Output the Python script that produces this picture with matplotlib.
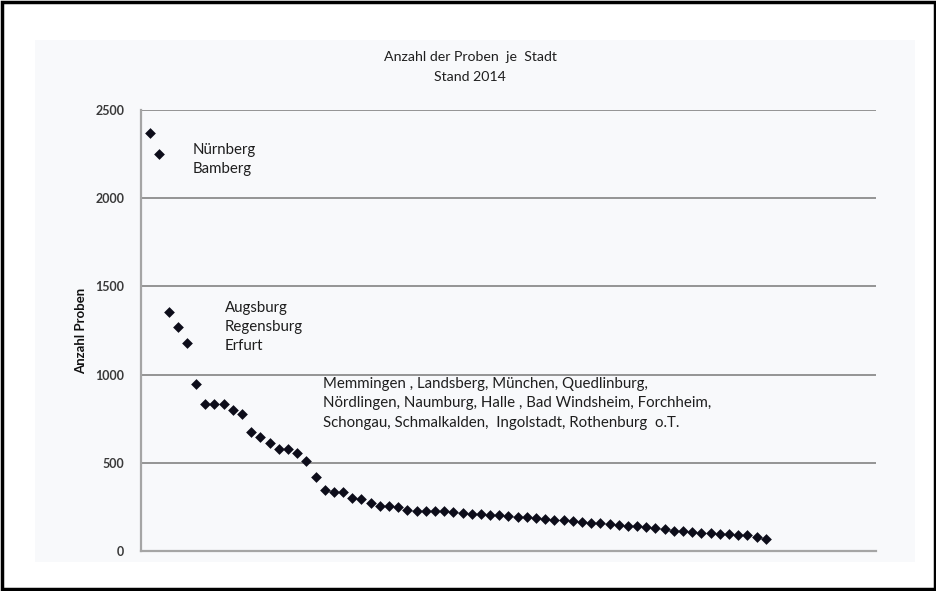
import matplotlib
matplotlib.use("Agg")
import matplotlib.pyplot as plt
from matplotlib.patches import Rectangle

plt.rcParams['font.family'] = ['Lato', 'DejaVu Sans']

# ---- data ----
counts = [2370, 2250, 1357, 1268, 1177, 945, 832, 832, 832, 799,
          778, 675, 648, 614, 580, 580, 554, 510, 420, 346,
          336, 336, 299, 293, 270, 257, 257, 251, 232, 228,
          228, 226, 224, 222, 216, 212, 210, 204, 202, 198,
          194, 190, 186, 182, 178, 174, 170, 166, 160, 156,
          152, 148, 144, 140, 134, 128, 122, 116, 112, 108,
          104, 100, 97, 94, 91, 88, 78, 70]
ranks = list(range(1, len(counts) + 1))
y_ticks = [0, 500, 1000, 1500, 2000, 2500]
title = "Anzahl der Proben  je  Stadt\nStand 2014"
y_label = "Anzahl Proben"
group1 = ["Nürnberg", "Bamberg"]
group2 = ["Augsburg", "Regensburg", "Erfurt"]
group3 = ["Memmingen , Landsberg, München, Quedlinburg,",
          "Nördlingen, Naumburg, Halle , Bad Windsheim, Forchheim,",
          "Schongau, Schmalkalden,  Ingolstadt, Rothenburg  o.T."]

W, H = 937, 591
fig = plt.figure(figsize=(W / 100, H / 100), dpi=100)
fig.patch.set_facecolor('white')

# light chart background (scanned image area)
fig.add_artist(Rectangle((35 / W, 1 - 562 / H), (915 - 35) / W, (562 - 40) / H,
                         transform=fig.transFigure, facecolor='#f8f9fb',
                         edgecolor='none', zorder=0))
# black outer border
fig.add_artist(Rectangle((2 / W, 2 / H), (W - 4) / W, (H - 4) / H,
                         transform=fig.transFigure, facecolor='none',
                         edgecolor='black', linewidth=2.5, zorder=10))

ax = fig.add_axes([141 / W, 1 - 551 / H, 735 / W, 441 / H])
ax.set_facecolor('none')
ax.scatter(ranks, counts, marker='D', s=30, color='#0d0d1a', zorder=3, linewidths=0)

ax.set_xlim(0, 80)
ax.set_ylim(0, 2500)
ax.set_xticks([])
ax.set_yticks(y_ticks)
ax.tick_params(axis='y', length=0, pad=12, labelsize=9, labelcolor='#3a3a3a')
for lab in ax.get_yticklabels():
    lab.set_fontweight('bold')
ax.yaxis.grid(True, color='#8c8c8c', linewidth=1.3)
ax.set_axisbelow(True)
for s in ['top', 'right']:
    ax.spines[s].set_visible(False)
for s in ['left', 'bottom']:
    ax.spines[s].set_color('#a5a5a5')
    ax.spines[s].set_linewidth(1.6)

ax.set_ylabel(y_label, fontsize=9.5, fontweight='bold', color='#111111', labelpad=6)

fig.text(470 / W, 1 - 67 / H, title, ha='center', va='center',
         fontsize=10.2, color='#1f1f1f', linespacing=1.75)

def block(lines, x, y0, dy):
    for i, t in enumerate(lines):
        ax.text(x, y0 - i * dy, t, ha='left', va='center', fontsize=10.8,
                color='#1e1e1e')

block(group1, 5.66, 2273, 108)
block(group2, 9.14, 1378, 108)
block(group3, 19.8, 947, 110)

fig.savefig('out.png', dpi=100)
